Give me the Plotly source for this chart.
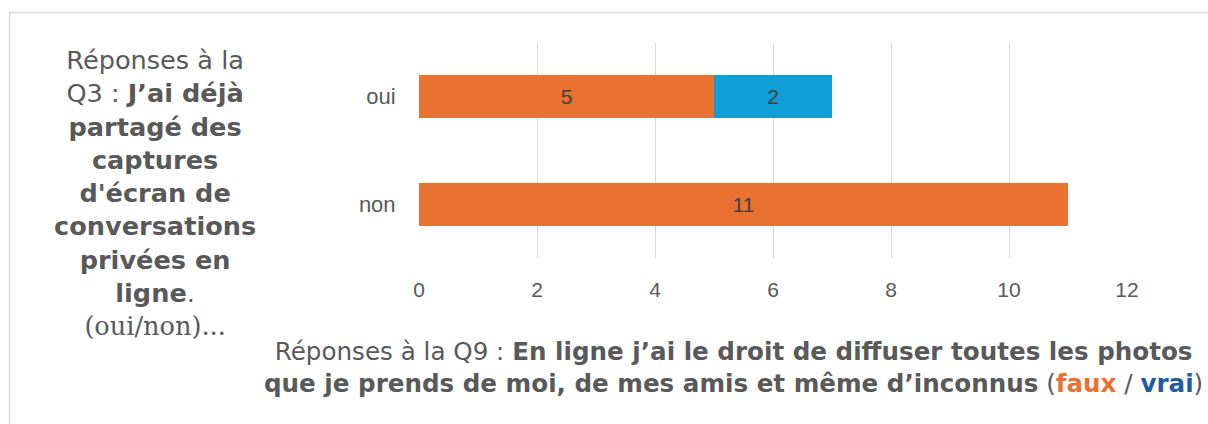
import plotly.graph_objects as go

categories = ["non", "oui"]
faux_values = [11, 5]
vrai_values = [0, 2]
x_ticks = [0, 2, 4, 6, 8, 10, 12]

ORANGE = "#E97132"
BLUE = "#0F9ED5"
GRAY = "#595959"
TITLE_FONT = "DejaVu Sans, Liberation Sans, Arial"
TICK_FONT = "Liberation Sans, Arial"

W, H = 1208, 424
L, R, T, B = 419, 81, 43, 166

fig = go.Figure()
for vals, name, col in [(faux_values, "faux", ORANGE), (vrai_values, "vrai", BLUE)]:
    fig.add_trace(go.Bar(
        y=categories, x=vals, orientation="h", name=name,
        marker=dict(color=col, line=dict(width=0)),
        text=[str(v) if v else "" for v in vals],
        textposition="inside", insidetextanchor="middle",
        textfont=dict(color="#404040", size=21, family=TICK_FONT),
        width=0.4,
    ))

pw = W - L - R
ph = H - T - B
def px_x(px):
    return (px - L) / pw
def px_y(py):
    return (H - B - py) / ph

left_title = ("Réponses à la<br>Q3 : <b>J’ai déjà</b><br><b>partagé des</b><br><b>captures</b>"
              "<br><b>d'écran de</b><br><b>conversations</b><br><b>privées en</b><br><b>ligne</b>."
              "<br><span style='font-family:DejaVu Serif, Liberation Serif, serif'>(oui/non)...</span>")
bottom_title = ("Réponses à la Q9 : <b>En ligne j’ai le droit de diffuser toutes les photos</b><br>"
                "<b>que je prends de moi, de mes amis et même d’inconnus</b> ("
                "<b><span style='color:#E97132'>faux</span></b> / "
                "<b><span style='color:#1F5C9E'>vrai</span></b>)")

fig.add_annotation(
    text=left_title, xref="paper", yref="paper",
    x=px_x(155), y=px_y(43), xanchor="center", yanchor="top",
    showarrow=False, align="center",
    font=dict(size=25.6, color=GRAY, family=TITLE_FONT),
)
fig.add_annotation(
    text=bottom_title, xref="paper", yref="paper",
    x=px_x(733), y=px_y(335), xanchor="center", yanchor="top",
    showarrow=False, align="center",
    font=dict(size=24.6, color=GRAY, family=TITLE_FONT),
)

fig.add_shape(
    type="rect", xref="paper", yref="paper",
    x0=px_x(9.5), x1=px_x(1230), y0=px_y(12.5), y1=px_y(450),
    line=dict(color="#D9D9D9", width=1.5), fillcolor="rgba(0,0,0,0)", layer="below",
)

fig.update_layout(
    barmode="stack",
    width=W, height=H,
    margin=dict(l=L, r=R, t=T, b=B),
    paper_bgcolor="white", plot_bgcolor="white",
    showlegend=False,
    font=dict(family=TICK_FONT, color=GRAY),
    xaxis=dict(
        range=[0, 12], tickvals=x_ticks, showgrid=True, gridcolor="#D9D9D9", gridwidth=1.3,
        zeroline=False, showline=False, ticks="outside", ticklen=13, tickcolor="rgba(0,0,0,0)",
        tickfont=dict(size=21, color=GRAY, family=TICK_FONT),
    ),
    yaxis=dict(
        categoryorder="array", categoryarray=categories, showgrid=False, zeroline=False,
        ticks="outside", ticklen=18, tickcolor="rgba(0,0,0,0)",
        tickfont=dict(size=22, color=GRAY, family=TICK_FONT),
    ),
)

fig.write_html("out.html", config={"displayModeBar": False},
               post_script="document.body.style.margin='0';document.body.style.overflow='hidden';")
